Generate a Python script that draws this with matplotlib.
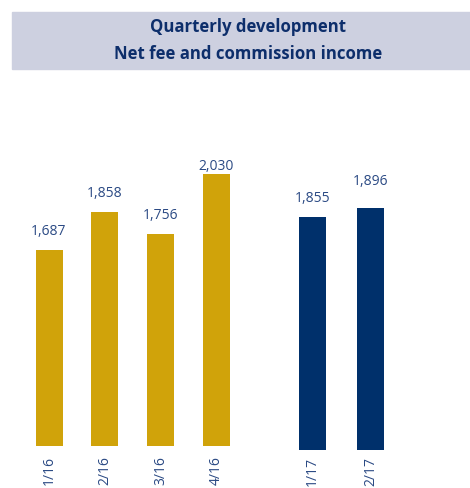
import matplotlib
matplotlib.use("Agg")
import matplotlib.pyplot as plt
from matplotlib.patches import Rectangle

plt.rcParams['font.family'] = ['Open Sans', 'DejaVu Sans']

title_lines = ["Quarterly development", "Net fee and commission income"]
quarters_2016 = ["1/16", "2/16", "3/16", "4/16"]
values_2016 = [1687, 1858, 1756, 2030]
quarters_2017 = ["1/17", "2/17"]
values_2017 = [1855, 1896]

# label paddings (points) as in the reference
pads_2016 = [7.5, 8, 8, 0.5]
pads_2017 = [8, 13.5]

gold = "#D0A30A"
navy = "#00306B"
label_col = "#2B4A84"
title_col = "#0D2E6B"
box_col = "#CDD0E0"

W, H = 470, 488
fig = plt.figure(figsize=(W / 100, H / 100), dpi=100)

# title box
fig.patches.append(Rectangle((12 / W, 1 - 69 / H), (W - 12) / W, 57 / H,
                             transform=fig.transFigure, color=box_col, zorder=0))
fig.text(248 / W, 1 - 27 / H, title_lines[0], ha="center", va="center",
         fontsize=12.1, fontweight="bold", color=title_col)
fig.text(248 / W, 1 - 54 / H, title_lines[1], ha="center", va="center",
         fontsize=12.1, fontweight="bold", color=title_col)

ylim = (790, 2370)


def make_axes(left_px, right_px, bottom_px, top_px):
    ax = fig.add_axes([left_px / W, 1 - bottom_px / H,
                       (right_px - left_px) / W, (bottom_px - top_px) / H])
    for s in ax.spines.values():
        s.set_visible(False)
    ax.set_yticks([])
    ax.set_ylim(*ylim)
    ax.patch.set_alpha(0)
    return ax


ax1 = make_axes(21.1, 244.4, 446, 100)
b1 = ax1.bar(range(len(values_2016)), values_2016, width=0.484, color=gold)
ax1.set_xlim(-0.5, 3.5)
ax1.set_xticks(range(len(quarters_2016)))
ax1.set_xticklabels(quarters_2016, rotation=90, va="top")
for rect, v, p in zip(b1, values_2016, pads_2016):
    ax1.annotate(f"{v:,}", (rect.get_x() + rect.get_width() / 2, rect.get_height()),
                 xytext=(0, p), textcoords="offset points", ha="center", va="bottom",
                 color=label_col, fontsize=10)
ax1.tick_params(axis="x", length=0, pad=7, labelsize=10, labelcolor=label_col)

ax2 = make_axes(283.5, 399.5, 450, 104)
b2 = ax2.bar(range(len(values_2017)), values_2017, width=0.474, color=navy)
ax2.set_xlim(-0.5, 1.5)
ax2.set_xticks(range(len(quarters_2017)))
ax2.set_xticklabels(quarters_2017, rotation=90, va="top")
for rect, v, p in zip(b2, values_2017, pads_2017):
    ax2.annotate(f"{v:,}", (rect.get_x() + rect.get_width() / 2, rect.get_height()),
                 xytext=(0, p), textcoords="offset points", ha="center", va="bottom",
                 color=label_col, fontsize=10)
ax2.tick_params(axis="x", length=0, pad=5, labelsize=10, labelcolor=label_col)

fig.savefig("out.png", dpi=100)
